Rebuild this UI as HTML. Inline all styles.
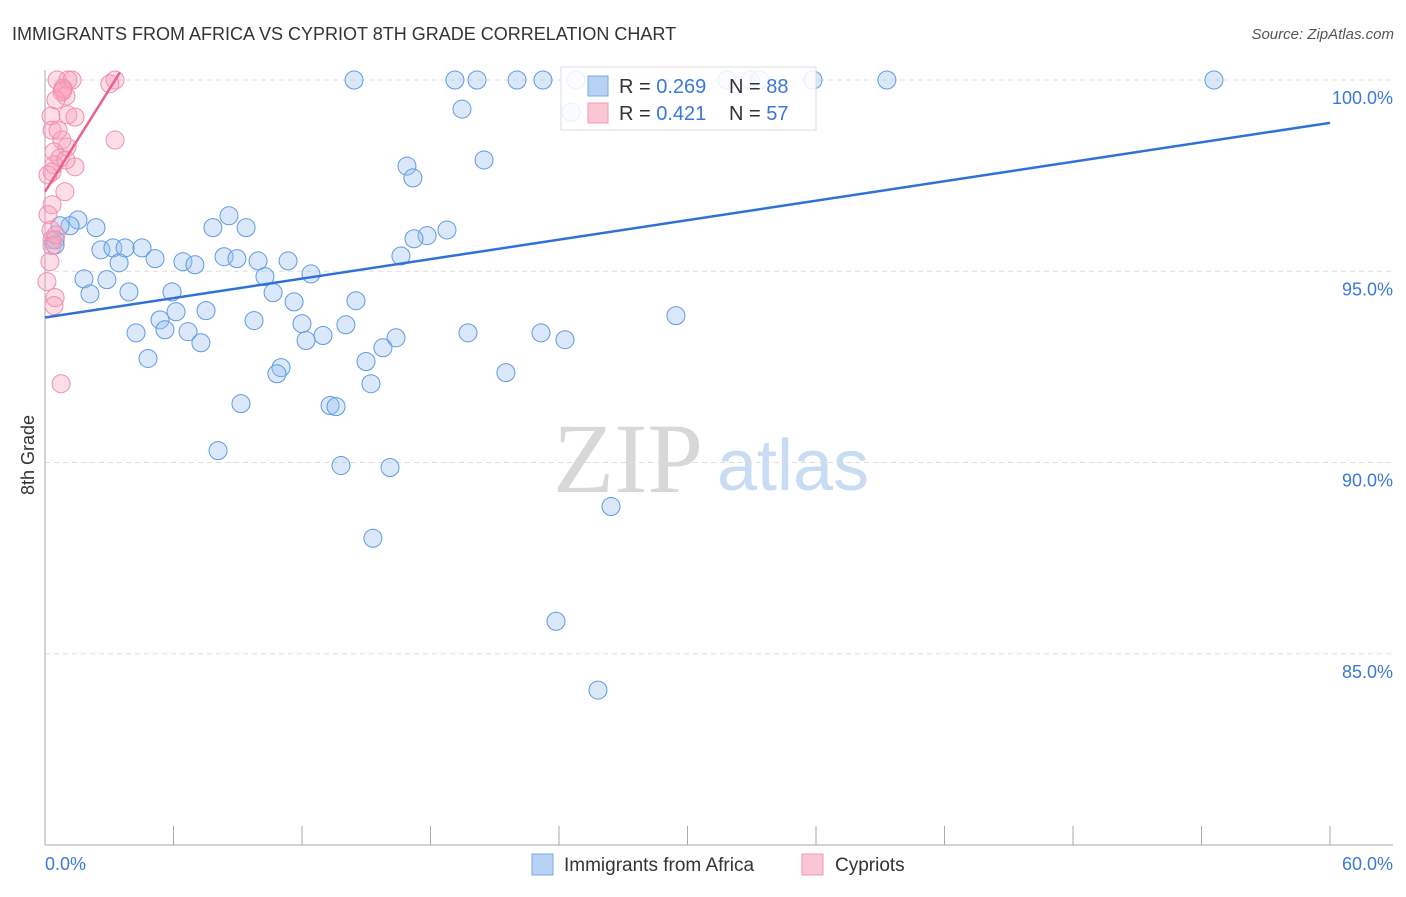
<!DOCTYPE html>
<html><head><meta charset="utf-8"><style>
body{margin:0;background:#fff;font-family:"Liberation Sans",sans-serif;}
</style></head><body>
<svg width="1406" height="892" viewBox="0 0 1406 892" xmlns="http://www.w3.org/2000/svg">
<text x="12" y="40" font-size="18" fill="#333">IMMIGRANTS FROM AFRICA VS CYPRIOT 8TH GRADE CORRELATION CHART</text>
<text x="1394" y="39" font-size="15" fill="#555" font-style="italic" text-anchor="end">Source: ZipAtlas.com</text>
<g>
<text x="553" y="492" font-size="100" font-family="Liberation Serif,serif" fill="#d8d8d8">ZIP</text>
<text x="717" y="490" font-size="72" fill="#c8dcf3">atlas</text>
</g>
<g id="grid"></g>
<g id="axes"></g>
<g id="marks"></g>
<text transform="translate(34,455) rotate(-90)" font-size="18" fill="#333" text-anchor="middle">8th Grade</text>
<g>
<rect x="561" y="67" width="255" height="63" fill="#fff" fill-opacity="0.85" stroke="#ddd"/>
<rect x="588" y="76" width="20" height="20" fill="#b8d2f5" stroke="#7aaae6"/>
<rect x="588" y="103" width="20" height="20" fill="#fbc6d4" stroke="#f09ab2"/>
<text x="619" y="93" font-size="20" fill="#333">R = <tspan fill="#3b78d8">0.269</tspan></text>
<text x="729" y="93" font-size="20" fill="#333">N = <tspan fill="#3b78d8">88</tspan></text>
<text x="619" y="120" font-size="20" fill="#333">R = <tspan fill="#3b78d8"> 0.421</tspan></text>
<text x="729" y="120" font-size="20" fill="#333">N = <tspan fill="#3b78d8">57</tspan></text>
</g>
<g>
<rect x="532" y="854" width="21" height="21" fill="#b8d2f5" stroke="#7aaae6"/>
<text x="564" y="871" font-size="19" fill="#333">Immigrants from Africa</text>
<rect x="802" y="854" width="21" height="21" fill="#fbc6d4" stroke="#f09ab2"/>
<text x="835" y="871" font-size="19" fill="#333">Cypriots</text>
</g>
</svg>
<script>
const blueX=[14.43,19.14,20.17,22.04,23.25,24.79,31.84,32.92,33.38,35.86,39.31,54.58,24.56,19.47,20.50,16.90,17.18,8.59,7.84,9.39,2.38,1.54,1.17,0.70,0.47,18.77,17.84,17.23,16.62,2.61,3.17,3.74,4.53,5.14,3.46,6.44,7.00,8.36,8.96,9.95,11.35,10.27,12.42,1.82,2.89,2.10,3.92,5.93,10.65,11.63,14.52,7.52,6.12,5.37,9.76,12.00,14.05,4.25,5.60,6.68,12.98,12.19,16.39,15.78,19.75,23.16,24.28,29.46,7.28,4.81,14.99,11.02,10.83,21.52,15.22,9.15,13.31,13.59,8.08,13.82,16.11,26.43,15.31,23.86,25.82,0.47];
const blueY=[100,100,100,100,100,100,100,100,100,100,100,100,99.16,99.24,97.91,97.75,97.44,96.45,96.14,96.14,96.14,96.34,96.19,96.19,95.82,96.08,95.93,95.85,95.40,95.56,95.61,95.61,95.61,95.33,95.22,95.25,95.17,95.38,95.33,95.27,95.27,94.86,94.93,94.80,94.78,94.41,94.46,94.46,94.44,94.20,94.23,93.97,93.94,93.73,93.71,93.63,93.60,93.39,93.47,93.42,93.32,93.19,93.26,93.00,93.39,93.39,93.21,93.84,93.13,92.72,92.64,92.48,92.32,92.35,92.06,91.54,91.49,91.46,90.31,89.92,89.87,88.85,88.02,85.85,84.05,95.69];
const pinkX=[0.56,1.26,3.27,1.07,0.84,0.98,0.79,3.03,0.28,1.07,0.33,0.79,1.03,0.42,0.70,0.42,1.40,0.33,0.93,0.33,0.14,0.28,0.33,0.33,0.09,0.47,0.42,3.27,0.75,0.14,1.40,0.84,0.51,0.98,0.23,0.61,0.51];
const pinkY=[100,100,100,100,99.79,99.58,99.69,99.90,99.06,99.09,98.69,98.43,98.25,98.12,97.96,97.78,97.73,97.60,97.08,96.74,96.48,96.08,95.82,95.67,94.73,94.31,94.10,98.43,92.06,97.52,99.03,99.74,99.48,97.91,95.25,98.69,95.95];
const blueTrend=[[0,93.79],[60,98.88]];
const pinkTrend=[[0,97.08],[3.5,100.2]];
const yTicks=[100,95,90,85];
const yTickLabels=["100.0%","95.0%","90.0%","85.0%"];
const xTicks=[0,6,12,18,24,30,36,42,48,54,60];
const X0=45,X1=1330,YT=80,YB=845;
const sx=v=>X0+(v/60)*(X1-X0);
const sy=v=>YB-(v-80)/20*(YB-YT);
const NS="http://www.w3.org/2000/svg";
function mk(tag,attrs,parent){const e=document.createElementNS(NS,tag);for(const k in attrs)e.setAttribute(k,attrs[k]);parent.appendChild(e);return e;}
const grid=document.getElementById('grid'),axes=document.getElementById('axes'),marks=document.getElementById('marks');
yTicks.forEach((t,i)=>{
  const l=mk('line',{x1:X0,x2:1393,y1:sy(t),y2:sy(t),stroke:'#ddd','stroke-dasharray':'5,4'},grid);
  
  
  const tx=mk('text',{x:1393,y:sy(t)+24,'font-size':18,fill:'#3b78d8','text-anchor':'end'},axes);
  tx.textContent=yTickLabels[i];
  
  
});
const ya=mk('line',{x1:X0,x2:X0,y1:70,y2:YB,stroke:'#aaa'},axes);


const xa=mk('line',{x1:X0,x2:1393,y1:YB,y2:YB,stroke:'#aaa'},axes);


xTicks.forEach(t=>{
  const l=mk('line',{x1:sx(t),x2:sx(t),y1:826,y2:YB,stroke:'#aaa'},axes);
  
  
});
const xl0=mk('text',{x:X0,y:870,'font-size':18,fill:'#3b78d8'},axes);xl0.textContent=xTicks[0].toFixed(1)+'%';


const xl1=mk('text',{x:1393,y:870,'font-size':18,fill:'#3b78d8','text-anchor':'end'},axes);xl1.textContent=xTicks[xTicks.length-1].toFixed(1)+'%';


blueX.forEach((x,i)=>{
  const c=mk('circle',{cx:sx(x),cy:sy(blueY[i]),r:9,fill:'rgba(150,190,240,0.35)',stroke:'#5e9be2','stroke-width':1},marks);
  
  
});
pinkX.forEach((x,i)=>{
  const c=mk('circle',{cx:sx(x),cy:sy(pinkY[i]),r:9,fill:'rgba(248,160,185,0.35)',stroke:'#f08fab','stroke-width':1},marks);
  
  
});
const bt=mk('line',{x1:sx(blueTrend[0][0]),y1:sy(blueTrend[0][1]),x2:sx(blueTrend[1][0]),y2:sy(blueTrend[1][1]),stroke:'#2f72d6','stroke-width':2.5},marks);


const pt=mk('line',{x1:sx(pinkTrend[0][0]),y1:sy(pinkTrend[0][1]),x2:sx(pinkTrend[1][0]),y2:sy(pinkTrend[1][1]),stroke:'#e8628a','stroke-width':2.5},marks);


</script>
</body></html>
